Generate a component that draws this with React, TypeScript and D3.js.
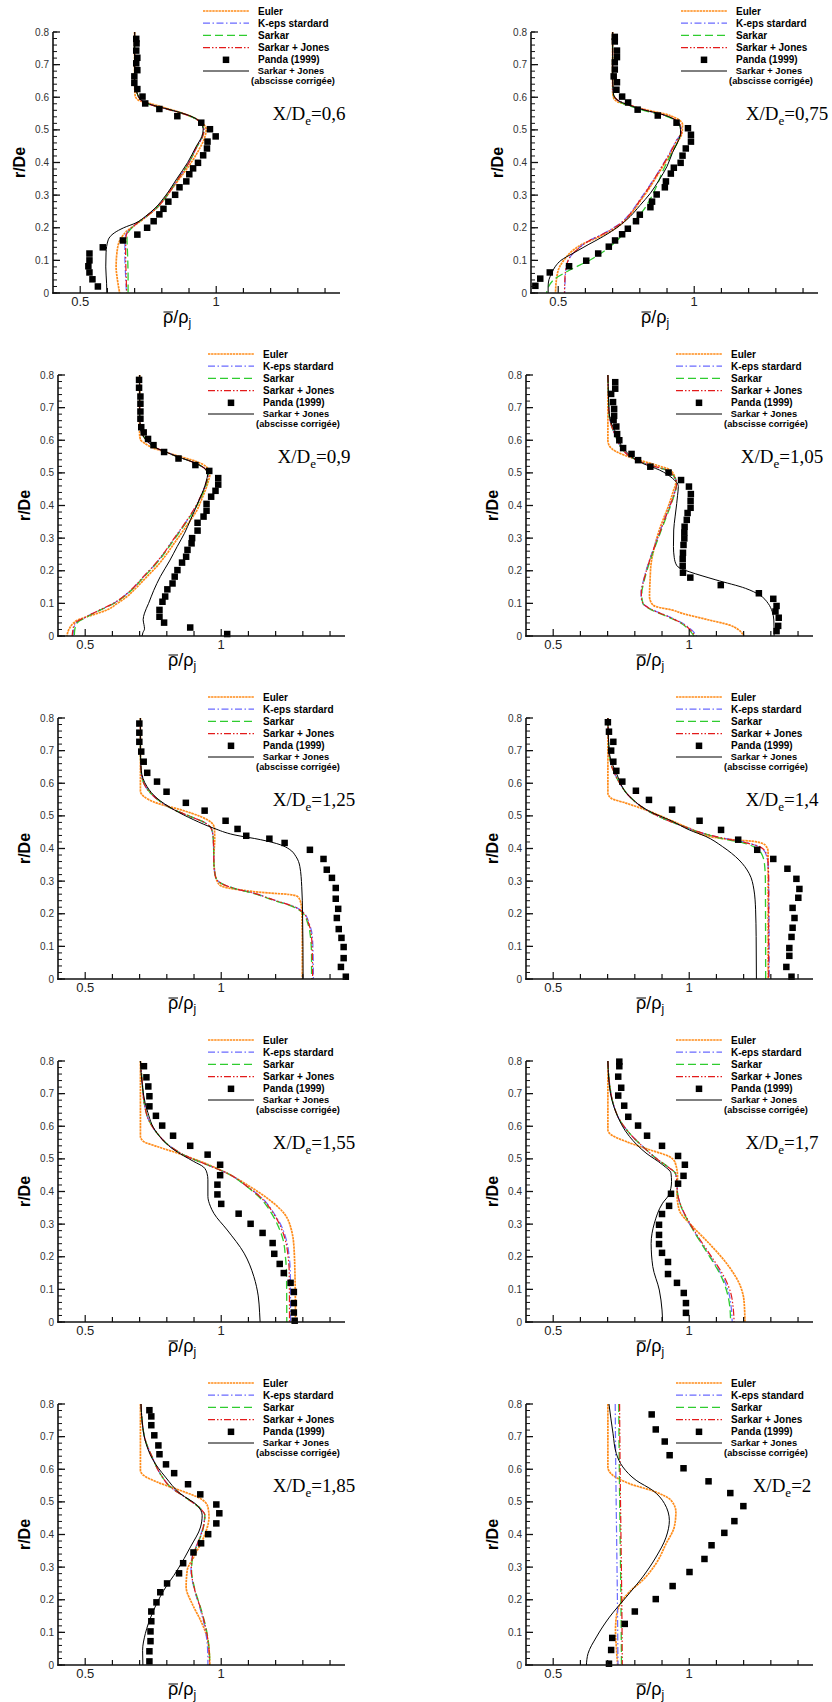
import React from "react";
import * as d3 from "d3";

type P = [number, number];

// ---------- DATA (x = rho/rho_j, r = r/De) ----------
const titles = ["0,6", "0,75", "0,9", "1,05", "1,25", "1,4", "1,55", "1,7", "1,85", "2"];
const kepsLabels = ["K-eps stardard", "K-eps stardard", "K-eps stardard", "K-eps stardard", "K-eps stardard", "K-eps stardard", "K-eps stardard", "K-eps stardard", "K-eps stardard", "K-eps standard"];
const xTickValues = [0.5, 0.6, 0.7, 0.8, 0.9, 1.0, 1.1, 1.2, 1.3, 1.4];
const xTickLabels = [[0.5, "0.5"], [1.0, "1"]] as [number, string][];
const yTickValues = [0, 0.1, 0.2, 0.3, 0.4, 0.5, 0.6, 0.7, 0.8];
const yTickLabels = ["0", "0.1", "0.2", "0.3", "0.4", "0.5", "0.6", "0.7", "0.8"];

// Panel 1 : X/De = 0,6
const euler1: P[] = [[0.70,0.80],[0.70,0.64],[0.702,0.605],[0.712,0.592],[0.76,0.58],[0.83,0.563],[0.89,0.547],[0.93,0.532],[0.955,0.516],[0.963,0.50],[0.957,0.475],[0.937,0.44],[0.90,0.39],[0.86,0.345],[0.82,0.30],[0.78,0.26],[0.74,0.232],[0.70,0.207],[0.672,0.19],[0.648,0.165],[0.636,0.13],[0.632,0.08],[0.637,0.04],[0.645,0]];
const keps1: P[] = [[0.70,0.80],[0.70,0.70],[0.70,0.645],[0.708,0.615],[0.725,0.59],[0.77,0.574],[0.83,0.561],[0.88,0.549],[0.92,0.536],[0.945,0.52],[0.955,0.50],[0.95,0.48],[0.93,0.45],[0.90,0.40],[0.86,0.35],[0.82,0.30],[0.78,0.26],[0.74,0.233],[0.70,0.208],[0.676,0.19],[0.665,0.17],[0.664,0.12],[0.667,0.05],[0.670,0]];
const sarkar1: P[] = [[0.70,0.80],[0.70,0.70],[0.70,0.645],[0.708,0.615],[0.725,0.59],[0.77,0.573],[0.83,0.561],[0.88,0.549],[0.92,0.536],[0.945,0.52],[0.955,0.50],[0.95,0.48],[0.93,0.45],[0.90,0.40],[0.86,0.35],[0.82,0.30],[0.78,0.26],[0.74,0.233],[0.70,0.208],[0.68,0.19],[0.672,0.17],[0.674,0.12],[0.676,0.05],[0.676,0]];
const sj1: P[] = [[0.70,0.80],[0.70,0.70],[0.70,0.645],[0.708,0.615],[0.725,0.59],[0.77,0.574],[0.83,0.561],[0.88,0.549],[0.92,0.536],[0.945,0.52],[0.955,0.50],[0.95,0.48],[0.93,0.45],[0.90,0.40],[0.86,0.35],[0.82,0.30],[0.78,0.26],[0.74,0.233],[0.70,0.208],[0.677,0.19],[0.668,0.17],[0.667,0.12],[0.669,0.05],[0.671,0]];
const black1: P[] = [[0.70,0.80],[0.70,0.70],[0.70,0.645],[0.708,0.615],[0.725,0.59],[0.77,0.575],[0.83,0.562],[0.88,0.55],[0.92,0.537],[0.943,0.52],[0.952,0.50],[0.947,0.48],[0.927,0.45],[0.895,0.40],[0.855,0.35],[0.815,0.30],[0.775,0.26],[0.74,0.235],[0.705,0.215],[0.66,0.20],[0.625,0.184],[0.603,0.163],[0.595,0.123],[0.594,0.08],[0.597,0.03],[0.598,0]];
const panda1: P[] = [[0.706,0.779],[0.707,0.765],[0.706,0.743],[0.710,0.721],[0.706,0.704],[0.710,0.683],[0.699,0.664],[0.699,0.644],[0.710,0.625],[0.729,0.602],[0.739,0.581],[0.791,0.564],[0.857,0.542],[0.945,0.522],[0.977,0.502],[0.998,0.480],[0.968,0.464],[0.966,0.443],[0.952,0.422],[0.933,0.399],[0.915,0.382],[0.901,0.364],[0.890,0.342],[0.865,0.324],[0.849,0.301],[0.824,0.280],[0.806,0.258],[0.791,0.241],[0.770,0.220],[0.746,0.200],[0.710,0.179],[0.657,0.161],[0.583,0.140],[0.534,0.121],[0.534,0.100],[0.530,0.082],[0.534,0.063],[0.545,0.042],[0.565,0.020]];

// Panel 2 : X/De = 0,75
const euler2: P[] = [[0.70,0.80],[0.70,0.62],[0.703,0.60],[0.716,0.587],[0.75,0.578],[0.82,0.562],[0.89,0.549],[0.935,0.535],[0.957,0.516],[0.955,0.49],[0.94,0.465],[0.915,0.43],[0.89,0.395],[0.86,0.355],[0.83,0.315],[0.80,0.28],[0.77,0.245],[0.73,0.21],[0.69,0.188],[0.64,0.168],[0.59,0.15],[0.55,0.128],[0.525,0.105],[0.505,0.08],[0.495,0.05],[0.49,0]];
const keps2: P[] = [[0.70,0.80],[0.70,0.66],[0.703,0.61],[0.72,0.59],[0.76,0.576],[0.82,0.56],[0.88,0.547],[0.925,0.533],[0.95,0.51],[0.952,0.49],[0.936,0.47],[0.91,0.43],[0.888,0.398],[0.86,0.36],[0.826,0.317],[0.795,0.28],[0.765,0.245],[0.73,0.215],[0.692,0.194],[0.655,0.177],[0.619,0.163],[0.590,0.148],[0.570,0.133],[0.548,0.115],[0.535,0.095],[0.527,0.061],[0.525,0.03],[0.524,0]];
const sarkar2: P[] = [[0.70,0.80],[0.70,0.66],[0.703,0.61],[0.72,0.588],[0.76,0.574],[0.82,0.558],[0.88,0.546],[0.925,0.532],[0.948,0.51],[0.95,0.49],[0.94,0.465],[0.912,0.42],[0.885,0.375],[0.863,0.33],[0.84,0.29],[0.814,0.255],[0.785,0.225],[0.753,0.194],[0.692,0.143],[0.619,0.102],[0.533,0.066],[0.484,0.041],[0.465,0.02],[0.457,0]];
const sj2: P[] = [[0.70,0.80],[0.70,0.66],[0.703,0.61],[0.72,0.59],[0.76,0.577],[0.82,0.561],[0.88,0.548],[0.925,0.534],[0.95,0.511],[0.952,0.49],[0.937,0.47],[0.912,0.43],[0.889,0.398],[0.861,0.36],[0.828,0.317],[0.797,0.28],[0.767,0.245],[0.732,0.215],[0.694,0.194],[0.656,0.177],[0.62,0.163],[0.591,0.148],[0.57,0.133],[0.547,0.115],[0.534,0.095],[0.526,0.061],[0.524,0.03],[0.523,0]];
const black2: P[] = [[0.70,0.80],[0.70,0.66],[0.703,0.61],[0.72,0.59],[0.76,0.576],[0.82,0.56],[0.88,0.548],[0.925,0.533],[0.948,0.51],[0.95,0.49],[0.943,0.47],[0.92,0.43],[0.90,0.388],[0.87,0.345],[0.839,0.306],[0.80,0.268],[0.765,0.235],[0.72,0.203],[0.667,0.174],[0.61,0.148],[0.555,0.122],[0.51,0.10],[0.49,0.082],[0.476,0.06],[0.466,0.041],[0.463,0.02],[0.463,0]];
const panda2: P[] = [[0.708,0.785],[0.708,0.771],[0.716,0.743],[0.716,0.723],[0.708,0.707],[0.708,0.685],[0.704,0.664],[0.716,0.646],[0.714,0.623],[0.735,0.602],[0.757,0.584],[0.792,0.562],[0.866,0.544],[0.935,0.522],[0.977,0.505],[0.988,0.485],[0.988,0.464],[0.969,0.443],[0.957,0.421],[0.950,0.399],[0.925,0.384],[0.914,0.366],[0.896,0.342],[0.892,0.324],[0.862,0.302],[0.845,0.280],[0.839,0.263],[0.800,0.240],[0.786,0.220],[0.756,0.197],[0.735,0.180],[0.709,0.161],[0.686,0.142],[0.647,0.121],[0.603,0.099],[0.540,0.082],[0.469,0.063],[0.434,0.044],[0.416,0.022]];

// Panel 3 : X/De = 0,9
const euler3: P[] = [[0.70,0.80],[0.70,0.62],[0.703,0.602],[0.72,0.59],[0.745,0.578],[0.79,0.565],[0.84,0.552],[0.89,0.54],[0.93,0.527],[0.952,0.512],[0.958,0.495],[0.953,0.475],[0.942,0.448],[0.926,0.415],[0.911,0.386],[0.887,0.355],[0.862,0.325],[0.832,0.29],[0.801,0.253],[0.765,0.215],[0.727,0.182],[0.69,0.15],[0.654,0.121],[0.618,0.10],[0.58,0.08],[0.54,0.068],[0.506,0.059],[0.475,0.05],[0.455,0.038],[0.44,0.02],[0.433,0]];
const keps3: P[] = [[0.70,0.80],[0.70,0.70],[0.702,0.645],[0.712,0.615],[0.735,0.592],[0.764,0.575],[0.80,0.563],[0.838,0.55],[0.88,0.538],[0.912,0.527],[0.94,0.513],[0.952,0.495],[0.948,0.475],[0.936,0.448],[0.918,0.415],[0.899,0.386],[0.875,0.355],[0.850,0.325],[0.82,0.29],[0.789,0.253],[0.752,0.215],[0.715,0.182],[0.68,0.15],[0.641,0.121],[0.60,0.098],[0.555,0.080],[0.52,0.066],[0.494,0.054],[0.473,0.045],[0.463,0.035],[0.457,0.015],[0.455,0]];
const sarkar3: P[] = [[0.70,0.80],[0.70,0.70],[0.702,0.645],[0.712,0.615],[0.735,0.592],[0.764,0.575],[0.80,0.563],[0.838,0.55],[0.88,0.538],[0.912,0.527],[0.94,0.513],[0.952,0.495],[0.949,0.475],[0.938,0.448],[0.92,0.415],[0.901,0.386],[0.877,0.355],[0.852,0.325],[0.822,0.29],[0.791,0.253],[0.754,0.215],[0.717,0.182],[0.682,0.15],[0.643,0.121],[0.602,0.098],[0.557,0.080],[0.522,0.066],[0.497,0.054],[0.477,0.045],[0.467,0.035],[0.461,0.015],[0.46,0]];
const sj3: P[] = [[0.70,0.80],[0.70,0.70],[0.702,0.645],[0.712,0.615],[0.735,0.592],[0.764,0.575],[0.80,0.563],[0.838,0.55],[0.88,0.538],[0.912,0.527],[0.94,0.513],[0.952,0.495],[0.947,0.475],[0.935,0.448],[0.917,0.415],[0.898,0.386],[0.874,0.355],[0.849,0.325],[0.819,0.29],[0.788,0.253],[0.751,0.215],[0.714,0.182],[0.679,0.15],[0.64,0.121],[0.599,0.098],[0.554,0.080],[0.519,0.066],[0.492,0.054],[0.471,0.045],[0.46,0.035],[0.454,0.015],[0.452,0]];
const black3: P[] = [[0.70,0.80],[0.70,0.70],[0.702,0.645],[0.712,0.615],[0.735,0.592],[0.764,0.575],[0.80,0.563],[0.838,0.55],[0.88,0.538],[0.912,0.527],[0.94,0.513],[0.95,0.495],[0.945,0.475],[0.935,0.448],[0.924,0.427],[0.905,0.39],[0.887,0.356],[0.865,0.315],[0.838,0.274],[0.81,0.23],[0.776,0.182],[0.752,0.14],[0.733,0.10],[0.718,0.07],[0.713,0.05],[0.716,0.035],[0.718,0.022],[0.712,0.01],[0.709,0]];
const panda3: P[] = [[0.698,0.785],[0.698,0.761],[0.703,0.734],[0.703,0.712],[0.703,0.688],[0.703,0.666],[0.706,0.640],[0.715,0.624],[0.731,0.604],[0.751,0.585],[0.790,0.564],[0.843,0.544],[0.905,0.524],[0.956,0.506],[0.989,0.484],[0.989,0.464],[0.979,0.445],[0.963,0.427],[0.946,0.405],[0.946,0.384],[0.935,0.366],[0.913,0.347],[0.913,0.323],[0.893,0.300],[0.891,0.284],[0.876,0.264],[0.871,0.243],[0.856,0.225],[0.839,0.202],[0.829,0.182],[0.821,0.161],[0.802,0.143],[0.794,0.121],[0.784,0.105],[0.773,0.080],[0.773,0.059],[0.790,0.041],[0.886,0.026],[1.022,0.006]];

// Panel 4 : X/De = 1,05
const euler4: P[] = [[0.701,0.80],[0.701,0.70],[0.701,0.60],[0.705,0.585],[0.732,0.565],[0.793,0.545],[0.878,0.524],[0.929,0.509],[0.948,0.485],[0.951,0.473],[0.94,0.44],[0.927,0.406],[0.908,0.365],[0.89,0.325],[0.873,0.275],[0.86,0.223],[0.856,0.17],[0.854,0.121],[0.862,0.10],[0.878,0.09],[0.935,0.08],[0.976,0.069],[1.073,0.049],[1.146,0.034],[1.18,0.02],[1.195,0.008],[1.201,0]];
const keps4: P[] = [[0.701,0.80],[0.703,0.74],[0.705,0.682],[0.712,0.65],[0.72,0.631],[0.736,0.60],[0.756,0.57],[0.793,0.545],[0.854,0.524],[0.915,0.509],[0.945,0.488],[0.954,0.468],[0.942,0.43],[0.927,0.396],[0.908,0.355],[0.89,0.315],[0.872,0.275],[0.854,0.233],[0.838,0.19],[0.829,0.161],[0.823,0.135],[0.823,0.121],[0.829,0.10],[0.854,0.085],[0.927,0.059],[0.976,0.039],[1.01,0.018],[1.027,0]];
const sarkar4: P[] = [[0.701,0.80],[0.703,0.74],[0.705,0.682],[0.712,0.65],[0.72,0.631],[0.736,0.60],[0.756,0.57],[0.793,0.545],[0.854,0.524],[0.915,0.509],[0.945,0.488],[0.954,0.468],[0.944,0.43],[0.93,0.396],[0.911,0.355],[0.893,0.315],[0.875,0.275],[0.857,0.233],[0.841,0.19],[0.832,0.161],[0.826,0.135],[0.826,0.121],[0.83,0.10],[0.85,0.085],[0.92,0.059],[0.97,0.039],[1.0,0.018],[1.018,0]];
const sj4: P[] = [[0.701,0.80],[0.703,0.74],[0.705,0.682],[0.712,0.65],[0.72,0.631],[0.736,0.60],[0.756,0.57],[0.793,0.545],[0.854,0.524],[0.915,0.509],[0.945,0.488],[0.954,0.468],[0.943,0.43],[0.928,0.396],[0.909,0.355],[0.891,0.315],[0.873,0.275],[0.855,0.233],[0.839,0.19],[0.83,0.161],[0.824,0.135],[0.824,0.121],[0.83,0.10],[0.853,0.085],[0.924,0.059],[0.973,0.039],[1.005,0.018],[1.021,0]];
const black4: P[] = [[0.701,0.80],[0.703,0.74],[0.706,0.682],[0.715,0.65],[0.732,0.621],[0.768,0.565],[0.829,0.529],[0.89,0.509],[0.939,0.483],[0.958,0.465],[0.96,0.458],[0.957,0.43],[0.954,0.406],[0.948,0.365],[0.943,0.325],[0.942,0.274],[0.945,0.24],[0.955,0.215],[0.98,0.203],[1.0,0.197],[1.098,0.172],[1.207,0.146],[1.26,0.125],[1.29,0.10],[1.305,0.075],[1.311,0.049],[1.312,0.02],[1.312,0]];
const panda4: P[] = [[0.728,0.778],[0.728,0.758],[0.713,0.742],[0.720,0.717],[0.724,0.696],[0.724,0.675],[0.722,0.662],[0.732,0.642],[0.735,0.619],[0.743,0.600],[0.757,0.576],[0.788,0.558],[0.812,0.539],[0.857,0.519],[0.924,0.501],[0.970,0.478],[0.999,0.458],[1.006,0.435],[1.005,0.414],[1.005,0.393],[0.994,0.377],[0.991,0.356],[0.983,0.335],[0.982,0.317],[0.982,0.299],[0.979,0.279],[0.977,0.255],[0.976,0.236],[0.976,0.215],[0.977,0.194],[1.004,0.179],[1.116,0.156],[1.256,0.131],[1.309,0.114],[1.321,0.092],[1.317,0.075],[1.329,0.056],[1.327,0.031],[1.321,0.015]];

// Panel 5 : X/De = 1,25
const euler5: P[] = [[0.703,0.80],[0.703,0.65],[0.703,0.575],[0.715,0.56],[0.764,0.539],[0.85,0.519],[0.924,0.498],[0.963,0.48],[0.975,0.462],[0.976,0.43],[0.973,0.375],[0.975,0.335],[0.985,0.30],[1.0,0.285],[1.071,0.273],[1.17,0.264],[1.25,0.259],[1.282,0.252],[1.292,0.235],[1.296,0.212],[1.298,0.10],[1.298,0]];
const keps5: P[] = [[0.703,0.80],[0.703,0.70],[0.705,0.641],[0.715,0.601],[0.74,0.57],[0.776,0.544],[0.826,0.519],[0.887,0.498],[0.942,0.478],[0.963,0.462],[0.97,0.437],[0.972,0.40],[0.973,0.355],[0.979,0.314],[0.998,0.294],[1.047,0.278],[1.12,0.263],[1.194,0.242],[1.268,0.222],[1.305,0.202],[1.323,0.171],[1.335,0.13],[1.338,0.069],[1.339,0]];
const sarkar5: P[] = [[0.703,0.80],[0.703,0.70],[0.705,0.641],[0.715,0.601],[0.74,0.57],[0.776,0.544],[0.826,0.519],[0.887,0.498],[0.942,0.478],[0.963,0.462],[0.97,0.437],[0.972,0.40],[0.973,0.355],[0.979,0.314],[0.998,0.294],[1.047,0.278],[1.12,0.262],[1.194,0.241],[1.265,0.221],[1.3,0.202],[1.318,0.171],[1.328,0.13],[1.332,0.069],[1.332,0]];
const sj5: P[] = [[0.703,0.80],[0.703,0.70],[0.705,0.641],[0.715,0.601],[0.74,0.57],[0.776,0.544],[0.826,0.519],[0.887,0.498],[0.942,0.478],[0.963,0.462],[0.97,0.437],[0.972,0.40],[0.973,0.355],[0.979,0.314],[0.998,0.294],[1.047,0.278],[1.12,0.263],[1.194,0.242],[1.267,0.222],[1.303,0.202],[1.321,0.171],[1.332,0.13],[1.335,0.069],[1.336,0]];
const black5: P[] = [[0.703,0.80],[0.703,0.70],[0.706,0.64],[0.727,0.59],[0.764,0.554],[0.826,0.519],[0.899,0.488],[0.973,0.462],[1.047,0.442],[1.145,0.427],[1.219,0.411],[1.25,0.398],[1.275,0.375],[1.289,0.345],[1.296,0.283],[1.299,0.20],[1.301,0]];
const panda5: P[] = [[0.699,0.783],[0.699,0.755],[0.699,0.727],[0.706,0.697],[0.715,0.666],[0.728,0.632],[0.764,0.605],[0.799,0.574],[0.870,0.540],[0.939,0.516],[1.016,0.485],[1.060,0.460],[1.092,0.439],[1.177,0.430],[1.233,0.417],[1.326,0.396],[1.376,0.368],[1.388,0.335],[1.407,0.310],[1.421,0.279],[1.421,0.246],[1.430,0.215],[1.425,0.187],[1.432,0.153],[1.442,0.126],[1.450,0.098],[1.450,0.064],[1.440,0.037],[1.458,0.007]];

// Panel 6 : X/De = 1,4
const euler6: P[] = [[0.701,0.80],[0.701,0.65],[0.701,0.570],[0.713,0.554],[0.768,0.539],[0.854,0.514],[0.927,0.488],[1.0,0.462],[1.073,0.437],[1.159,0.427],[1.244,0.421],[1.28,0.41],[1.29,0.39],[1.29,0.30],[1.29,0]];
const keps6: P[] = [[0.701,0.80],[0.703,0.74],[0.705,0.693],[0.712,0.66],[0.72,0.641],[0.744,0.601],[0.78,0.56],[0.841,0.519],[0.915,0.488],[0.988,0.465],[1.049,0.447],[1.122,0.432],[1.195,0.421],[1.256,0.406],[1.278,0.39],[1.287,0.365],[1.291,0.335],[1.293,0.232],[1.294,0]];
const sarkar6: P[] = [[0.701,0.80],[0.703,0.74],[0.705,0.693],[0.712,0.66],[0.72,0.641],[0.744,0.601],[0.78,0.56],[0.841,0.519],[0.915,0.488],[0.988,0.465],[1.049,0.447],[1.122,0.43],[1.195,0.418],[1.245,0.402],[1.268,0.38],[1.277,0.35],[1.28,0.30],[1.281,0]];
const sj6: P[] = [[0.701,0.80],[0.703,0.74],[0.705,0.693],[0.712,0.66],[0.72,0.641],[0.744,0.601],[0.78,0.56],[0.841,0.519],[0.915,0.488],[0.988,0.465],[1.049,0.447],[1.122,0.432],[1.195,0.42],[1.26,0.405],[1.283,0.385],[1.29,0.355],[1.292,0.30],[1.292,0]];
const black6: P[] = [[0.701,0.80],[0.703,0.74],[0.707,0.69],[0.732,0.631],[0.78,0.56],[0.854,0.514],[0.939,0.483],[1.0,0.457],[1.061,0.437],[1.122,0.406],[1.183,0.365],[1.22,0.324],[1.238,0.273],[1.244,0.212],[1.246,0.13],[1.247,0]];
const panda6: P[] = [[0.701,0.787],[0.705,0.758],[0.721,0.727],[0.713,0.700],[0.721,0.666],[0.732,0.638],[0.754,0.605],[0.804,0.577],[0.852,0.549],[0.937,0.519],[1.038,0.485],[1.117,0.457],[1.180,0.427],[1.250,0.396],[1.309,0.368],[1.361,0.338],[1.394,0.307],[1.405,0.276],[1.401,0.249],[1.380,0.218],[1.387,0.187],[1.380,0.157],[1.376,0.129],[1.368,0.095],[1.368,0.071],[1.357,0.037],[1.376,0.007]];

// Panel 7 : X/De = 1,55
const euler7: P[] = [[0.703,0.80],[0.703,0.65],[0.703,0.569],[0.715,0.553],[0.764,0.538],[0.838,0.518],[0.924,0.492],[1.01,0.461],[1.096,0.42],[1.17,0.379],[1.231,0.333],[1.258,0.282],[1.268,0.221],[1.272,0.10],[1.273,0]];
const keps7: P[] = [[0.703,0.80],[0.709,0.743],[0.717,0.671],[0.733,0.62],[0.764,0.579],[0.813,0.538],[0.875,0.507],[0.948,0.482],[1.022,0.456],[1.096,0.415],[1.157,0.374],[1.194,0.333],[1.222,0.293],[1.24,0.25],[1.25,0.20],[1.254,0.15],[1.255,0]];
const sarkar7: P[] = [[0.703,0.80],[0.709,0.743],[0.717,0.671],[0.733,0.62],[0.764,0.579],[0.813,0.538],[0.875,0.507],[0.948,0.482],[1.022,0.456],[1.094,0.415],[1.15,0.374],[1.185,0.333],[1.21,0.293],[1.228,0.25],[1.236,0.20],[1.24,0.15],[1.241,0]];
const sj7: P[] = [[0.703,0.80],[0.709,0.743],[0.717,0.671],[0.733,0.62],[0.764,0.579],[0.813,0.538],[0.875,0.507],[0.948,0.482],[1.022,0.456],[1.096,0.415],[1.155,0.374],[1.192,0.333],[1.218,0.293],[1.236,0.25],[1.246,0.20],[1.25,0.15],[1.251,0]];
const black7: P[] = [[0.703,0.80],[0.708,0.74],[0.727,0.651],[0.764,0.579],[0.826,0.528],[0.899,0.492],[0.935,0.475],[0.948,0.455],[0.951,0.436],[0.951,0.385],[0.96,0.355],[0.973,0.333],[1.022,0.282],[1.084,0.211],[1.12,0.139],[1.136,0.08],[1.141,0.03],[1.143,0]];
const panda7: P[] = [[0.716,0.784],[0.725,0.750],[0.732,0.722],[0.736,0.692],[0.736,0.661],[0.760,0.632],[0.783,0.602],[0.823,0.571],[0.886,0.540],[0.950,0.513],[0.996,0.482],[0.996,0.450],[0.986,0.421],[0.986,0.391],[1.000,0.362],[1.064,0.332],[1.108,0.301],[1.152,0.273],[1.189,0.242],[1.195,0.209],[1.215,0.178],[1.230,0.150],[1.255,0.120],[1.267,0.092],[1.267,0.058],[1.267,0.029],[1.270,0.004]];

// Panel 8 : X/De = 1,7
const euler8: P[] = [[0.701,0.80],[0.701,0.65],[0.701,0.589],[0.713,0.574],[0.768,0.553],[0.854,0.528],[0.927,0.507],[0.949,0.487],[0.957,0.446],[0.955,0.395],[0.963,0.344],[1.012,0.293],[1.073,0.241],[1.146,0.17],[1.189,0.108],[1.201,0.068],[1.205,0]];
const keps8: P[] = [[0.701,0.80],[0.707,0.732],[0.72,0.671],[0.744,0.62],[0.78,0.579],[0.829,0.538],[0.878,0.502],[0.927,0.472],[0.949,0.456],[0.955,0.426],[0.957,0.395],[0.97,0.354],[1.0,0.303],[1.037,0.252],[1.085,0.19],[1.122,0.139],[1.146,0.088],[1.155,0.04],[1.158,0]];
const sarkar8: P[] = [[0.701,0.80],[0.707,0.732],[0.72,0.671],[0.744,0.62],[0.78,0.579],[0.829,0.538],[0.878,0.502],[0.927,0.472],[0.949,0.456],[0.955,0.426],[0.957,0.395],[0.97,0.354],[1.0,0.303],[1.036,0.252],[1.083,0.19],[1.118,0.139],[1.14,0.088],[1.15,0.04],[1.152,0]];
const sj8: P[] = [[0.701,0.80],[0.707,0.732],[0.72,0.671],[0.744,0.62],[0.78,0.579],[0.829,0.538],[0.878,0.502],[0.927,0.472],[0.949,0.456],[0.955,0.426],[0.957,0.395],[0.971,0.354],[1.002,0.303],[1.04,0.252],[1.09,0.19],[1.128,0.139],[1.153,0.088],[1.162,0.04],[1.165,0]];
const black8: P[] = [[0.701,0.80],[0.707,0.72],[0.732,0.64],[0.78,0.569],[0.841,0.518],[0.902,0.482],[0.933,0.456],[0.935,0.43],[0.925,0.39],[0.902,0.364],[0.872,0.303],[0.86,0.241],[0.866,0.17],[0.89,0.098],[0.90,0.037],[0.902,0]];
const panda8: P[] = [[0.743,0.798],[0.743,0.784],[0.739,0.752],[0.750,0.718],[0.739,0.694],[0.761,0.663],[0.776,0.629],[0.812,0.602],[0.845,0.571],[0.900,0.540],[0.959,0.509],[0.984,0.482],[0.979,0.448],[0.959,0.424],[0.933,0.393],[0.926,0.356],[0.900,0.331],[0.889,0.298],[0.889,0.267],[0.889,0.239],[0.900,0.212],[0.922,0.184],[0.922,0.147],[0.955,0.120],[0.980,0.089],[0.988,0.058],[0.988,0.028]];

// Panel 9 : X/De = 1,85
const euler9: P[] = [[0.703,0.80],[0.703,0.65],[0.703,0.597],[0.715,0.581],[0.764,0.561],[0.85,0.535],[0.924,0.51],[0.951,0.484],[0.955,0.454],[0.936,0.392],[0.899,0.331],[0.875,0.29],[0.871,0.239],[0.893,0.188],[0.924,0.137],[0.948,0.086],[0.956,0.04],[0.958,0]];
const keps9: P[] = [[0.705,0.80],[0.709,0.75],[0.721,0.689],[0.746,0.638],[0.776,0.586],[0.813,0.546],[0.875,0.51],[0.924,0.479],[0.939,0.459],[0.93,0.413],[0.912,0.372],[0.893,0.331],[0.889,0.29],[0.899,0.239],[0.924,0.168],[0.942,0.106],[0.95,0.045],[0.951,0]];
const sarkar9: P[] = [[0.705,0.80],[0.709,0.75],[0.721,0.689],[0.746,0.638],[0.776,0.586],[0.813,0.546],[0.875,0.51],[0.924,0.479],[0.94,0.459],[0.932,0.413],[0.914,0.372],[0.895,0.331],[0.891,0.29],[0.901,0.239],[0.927,0.168],[0.946,0.106],[0.956,0.045],[0.958,0]];
const sj9: P[] = [[0.705,0.80],[0.709,0.75],[0.721,0.689],[0.746,0.638],[0.776,0.586],[0.813,0.546],[0.875,0.51],[0.924,0.479],[0.94,0.459],[0.931,0.413],[0.913,0.372],[0.894,0.331],[0.89,0.29],[0.9,0.239],[0.926,0.168],[0.945,0.106],[0.955,0.045],[0.957,0]];
const black9: P[] = [[0.705,0.80],[0.709,0.75],[0.72,0.69],[0.748,0.63],[0.795,0.576],[0.85,0.525],[0.912,0.489],[0.93,0.459],[0.924,0.423],[0.887,0.362],[0.838,0.29],[0.789,0.229],[0.746,0.157],[0.721,0.096],[0.711,0.045],[0.712,0]];
const panda9: P[] = [[0.736,0.781],[0.743,0.762],[0.743,0.735],[0.754,0.704],[0.769,0.673],[0.773,0.646],[0.797,0.615],[0.827,0.588],[0.878,0.554],[0.923,0.523],[0.982,0.492],[0.993,0.465],[0.982,0.434],[0.952,0.401],[0.926,0.373],[0.898,0.345],[0.860,0.312],[0.845,0.281],[0.801,0.250],[0.776,0.223],[0.762,0.192],[0.743,0.164],[0.743,0.134],[0.740,0.103],[0.740,0.073],[0.736,0.042],[0.736,0.011]];

// Panel 10 : X/De = 2
const euler10: P[] = [[0.701,0.80],[0.701,0.65],[0.701,0.607],[0.713,0.586],[0.78,0.556],[0.878,0.53],[0.933,0.505],[0.951,0.469],[0.945,0.423],[0.915,0.372],[0.878,0.311],[0.829,0.26],[0.78,0.224],[0.754,0.198],[0.738,0.17],[0.732,0.147],[0.729,0.106],[0.732,0.055],[0.737,0]];
const keps10: P[] = [[0.728,0.80],[0.73,0.60],[0.733,0.40],[0.736,0.20],[0.738,0]];
const sarkar10: P[] = [[0.741,0.80],[0.743,0.60],[0.746,0.40],[0.749,0.20],[0.751,0]];
const sj10: P[] = [[0.744,0.80],[0.746,0.60],[0.749,0.40],[0.752,0.20],[0.754,0]];
const black10: P[] = [[0.705,0.80],[0.72,0.709],[0.732,0.648],[0.756,0.607],[0.805,0.566],[0.866,0.535],[0.909,0.495],[0.927,0.443],[0.915,0.392],[0.878,0.331],[0.829,0.27],[0.768,0.208],[0.707,0.147],[0.659,0.086],[0.628,0.035],[0.622,0]];
const panda10: P[] = [[0.862,0.768],[0.877,0.722],[0.910,0.685],[0.928,0.643],[0.979,0.603],[1.071,0.563],[1.151,0.527],[1.199,0.487],[1.166,0.441],[1.129,0.405],[1.082,0.367],[1.056,0.325],[1.001,0.285],[0.939,0.242],[0.877,0.202],[0.800,0.164],[0.763,0.126],[0.717,0.083],[0.713,0.046],[0.705,0.004]];

const eulerSeries = [euler1, euler2, euler3, euler4, euler5, euler6, euler7, euler8, euler9, euler10];
const kepsSeries = [keps1, keps2, keps3, keps4, keps5, keps6, keps7, keps8, keps9, keps10];
const sarkarSeries = [sarkar1, sarkar2, sarkar3, sarkar4, sarkar5, sarkar6, sarkar7, sarkar8, sarkar9, sarkar10];
const sjSeries = [sj1, sj2, sj3, sj4, sj5, sj6, sj7, sj8, sj9, sj10];
const blackSeries = [black1, black2, black3, black4, black5, black6, black7, black8, black9, black10];
const pandaSeries = [panda1, panda2, panda3, panda4, panda5, panda6, panda7, panda8, panda9, panda10];

// ---------- LAYOUT ----------
const panelLefts = [53, 531, 58, 526, 58, 526, 58, 526, 58, 526];
const rowTops = [32, 375, 718, 1061, 1404];
const PW = 287;
const PH = 261;

const STY = {
  euler: { stroke: "#ff8c1a", w: 1.7, dash: "2.4,0.7" },
  keps: { stroke: "#6a6aff", w: 1.2, dash: "7,2.5,1.5,2.5" },
  sarkar: { stroke: "#2fcc2f", w: 1.3, dash: "8,4" },
  sj: { stroke: "#e31a1a", w: 1.2, dash: "7,2,1.5,2,1.5,2" },
  black: { stroke: "#000000", w: 1, dash: undefined as string | undefined },
};

const SANS = "'Liberation Sans', Arial, Helvetica, sans-serif";
const SERIF = "'Liberation Serif', 'Times New Roman', serif";

function Panel({ i }: { i: number }) {
  const left = panelLefts[i];
  const top = rowTops[Math.floor(i / 2)];
  const bottom = top + PH;
  const x = d3.scaleLinear().domain([0.4, 1.455]).range([left, left + PW]);
  const y = d3.scaleLinear().domain([0, 0.8]).range([bottom, top]);
  const line = d3
    .line<P>()
    .x((d) => x(d[0]))
    .y((d) => y(d[1]))
    .curve(d3.curveMonotoneY);

  const minorY = d3.range(0, 0.8001, 0.02);
  const series: [P[], keyof typeof STY][] = [
    [eulerSeries[i], "euler"],
    [kepsSeries[i], "keps"],
    [sarkarSeries[i], "sarkar"],
    [sjSeries[i], "sj"],
    [blackSeries[i], "black"],
  ];
  const lx0 = left + 150;
  const lx1 = left + 196;
  const ltx = left + 205;
  const ly = (k: number) => top - 21 + k * 12.2;
  const legendLines: [string, keyof typeof STY][] = [
    ["Euler", "euler"],
    [kepsLabels[i], "keps"],
    ["Sarkar", "sarkar"],
    ["Sarkar + Jones", "sj"],
  ];
  const ms = 6.5;
  const xl = left + 110;
  return (
    <g>
      {series.map(([d, k]) => (
        <path
          key={k}
          d={line(d) || ""}
          fill="none"
          stroke={STY[k].stroke}
          strokeWidth={STY[k].w}
          strokeDasharray={STY[k].dash}
        />
      ))}
      {pandaSeries[i].map((d, j) => (
        <rect key={j} x={x(d[0]) - ms / 2} y={y(d[1]) - ms / 2} width={ms} height={ms} fill="#000" />
      ))}
      <line x1={left} x2={left} y1={top} y2={bottom + 0.8} stroke="#111" strokeWidth={1.6} />
      <line x1={left - 0.8} x2={left + PW} y1={bottom} y2={bottom} stroke="#111" strokeWidth={1.6} />
      {minorY.map((v, j) => (
        <line key={"m" + j} x1={left} x2={left + 4} y1={y(v)} y2={y(v)} stroke="#111" strokeWidth={1} />
      ))}
      {yTickValues.map((v, j) => (
        <line key={"M" + j} x1={left} x2={left + 7} y1={y(v)} y2={y(v)} stroke="#111" strokeWidth={1.3} />
      ))}
      {yTickValues.map((v, j) => (
        <text key={"yl" + j} x={left - 4} y={y(v) + 3.5} textAnchor="end" fontFamily={SANS} fontSize={10} fill="#333">
          {yTickLabels[j]}
        </text>
      ))}
      {xTickValues.map((v, j) => {
        const major = Math.abs(v - 0.5) < 1e-6 || Math.abs(v - 1) < 1e-6;
        return (
          <line key={"xt" + j} x1={x(v)} x2={x(v)} y1={bottom} y2={bottom - (major ? 7 : 5)} stroke="#111" strokeWidth={1.2} />
        );
      })}
      {xTickLabels.map(([v, s], j) => (
        <text key={"xl" + j} x={x(v)} y={bottom + 13} textAnchor="middle" fontFamily={SANS} fontSize={13} fill="#222">
          {s}
        </text>
      ))}
      <text
        transform={`translate(${left - 28.5},${top + PH / 2}) rotate(-90)`}
        textAnchor="middle"
        fontFamily={SANS}
        fontWeight="bold"
        fontSize={16}
        fill="#000"
      >
        r/De
      </text>
      <text x={xl} y={bottom + 30} fontFamily={SANS} fontSize={18} fill="#000">
        <tspan>ρ/ρ</tspan>
        <tspan fontSize={12} dy={4}>j</tspan>
      </text>
      <line x1={xl + 0.5} x2={xl + 10} y1={bottom + 19} y2={bottom + 19} stroke="#000" strokeWidth={1} />
      <text x={left + 256} y={top + 88} textAnchor="middle" fontFamily={SERIF} fontSize={19} fill="#000">
        <tspan>X/D</tspan>
        <tspan fontSize={13} dy={5}>e</tspan>
        <tspan dy={-5}>={titles[i]}</tspan>
      </text>
      {legendLines.map(([label, k], j) => (
        <g key={"lg" + j}>
          <line x1={lx0} x2={lx1} y1={ly(j)} y2={ly(j)} stroke={STY[k].stroke} strokeWidth={STY[k].w} strokeDasharray={STY[k].dash} />
          <text x={ltx} y={ly(j) + 3.6} fontFamily={SANS} fontWeight="bold" fontSize={10} fill="#000">
            {label}
          </text>
        </g>
      ))}
      <rect x={(lx0 + lx1) / 2 - ms / 2} y={ly(4) - ms / 2} width={ms} height={ms} fill="#000" />
      <text x={ltx} y={ly(4) + 3.6} fontFamily={SANS} fontWeight="bold" fontSize={10} fill="#000">
        Panda (1999)
      </text>
      <line x1={lx0} x2={lx1} y1={ly(5) - 1} y2={ly(5) - 1} stroke="#000" strokeWidth={1} />
      <text x={left + 238} y={top + 42} textAnchor="middle" fontFamily={SANS} fontWeight="bold" fontSize={9.3} fill="#000">
        Sarkar + Jones
      </text>
      <text x={left + 240} y={top + 52} textAnchor="middle" fontFamily={SANS} fontWeight="bold" fontSize={9.2} fill="#000">
        (abscisse corrigée)
      </text>
    </g>
  );
}

export default function App() {
  return (
    <svg
      width={832}
      height={1702}
      viewBox="0 0 832 1702"
      style={{ position: "absolute", left: 0, top: 0, background: "#fff" }}
    >
      <rect width={832} height={1702} fill="#fff" />
      {titles.map((_, i) => (
        <Panel key={i} i={i} />
      ))}
    </svg>
  );
}
